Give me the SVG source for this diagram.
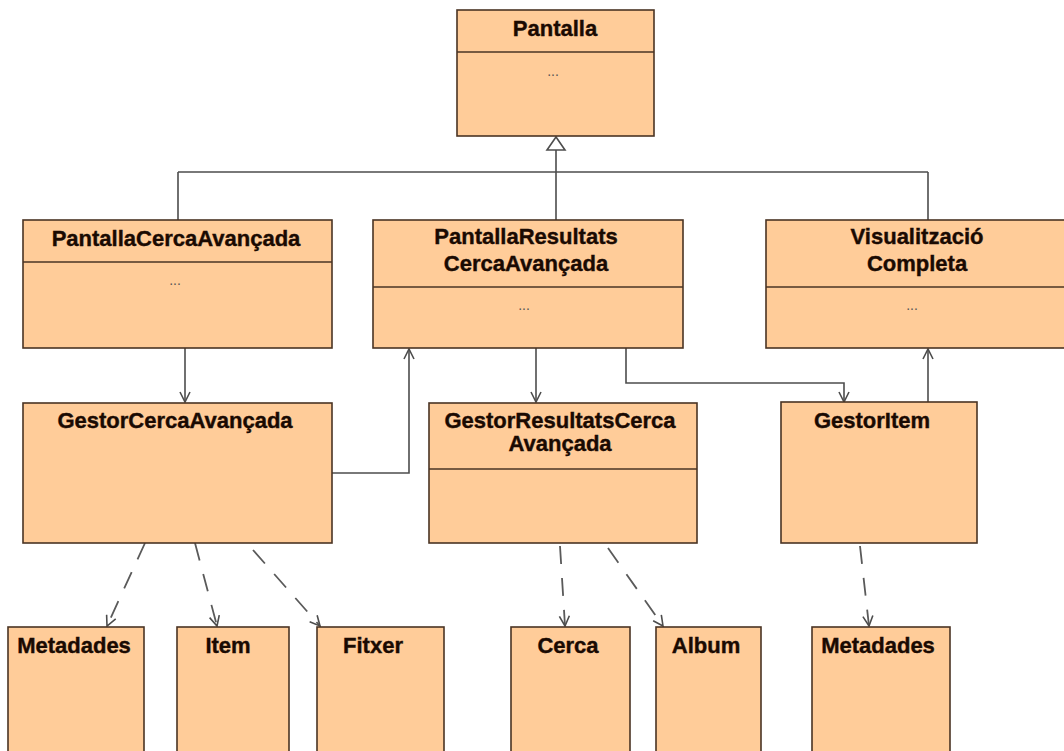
<svg xmlns="http://www.w3.org/2000/svg" width="1064" height="751" viewBox="0 0 1064 751">
<style>
.box{fill:#FFCC99;stroke:#4a3424;stroke-width:1.6}
.div{stroke:#4a3424;stroke-width:1.6}
.t{font-family:"Liberation Sans",Arial,sans-serif;font-weight:bold;font-size:22px;fill:#1a0a02;text-anchor:middle;stroke:#1a0a02;stroke-width:0.4}
.dots{font-family:"Liberation Sans",Arial,sans-serif;font-size:14px;fill:#555;text-anchor:middle}
.c{fill:none;stroke:#4d4d4d;stroke-width:1.6}
.d{fill:none;stroke:#5a5a5a;stroke-width:1.8;stroke-dasharray:18 14}
</style>
<defs>
<marker id="open" viewBox="0 0 12 12" refX="11" refY="6" markerWidth="12" markerHeight="12" markerUnits="userSpaceOnUse" orient="auto">
<path d="M1,1 L11,6 L1,11" fill="none" stroke="#4d4d4d" stroke-width="1.6"/>
</marker>
</defs>
<rect width="1064" height="751" fill="#ffffff"/>
<g id="connectors">
<polygon points="556,137 547,150 565,150" fill="#ffffff" stroke="#4d4d4d" stroke-width="1.6"/>
<path class="c" d="M556,150 V172 M178,172 H928 M178,172 V220 M556,172 V220 M928,172 V220"/>
<path class="c" d="M185,348 V402" marker-end="url(#open)"/>
<path class="c" d="M332,473 H409 V349" marker-end="url(#open)"/>
<path class="c" d="M536,348 V402" marker-end="url(#open)"/>
<path class="c" d="M626,348 V383 H844 V402" marker-end="url(#open)"/>
<path class="c" d="M928,402 V349" marker-end="url(#open)"/>
<path class="d" d="M145,543 L107,626" marker-end="url(#open)"/>
<path class="d" d="M195,543 L217,626" marker-end="url(#open)"/>
<path class="d" d="M253,550 L320,626" marker-end="url(#open)"/>
<path class="d" d="M560,546 L565,626" marker-end="url(#open)"/>
<path class="d" d="M608,548 L663,626" marker-end="url(#open)"/>
<path class="d" d="M860,546 L869,626" marker-end="url(#open)"/>
</g>
<g id="Pantalla">
<rect class="box" x="457" y="10" width="197" height="126"/>
<line class="div" x1="457" y1="52" x2="654" y2="52"/>
<text class="t" x="555" y="36">Pantalla</text>
<text class="dots" x="553" y="76">...</text>
</g>
<g id="PantallaCercaAvancada">
<rect class="box" x="23" y="220" width="309" height="128"/>
<line class="div" x1="23" y1="262" x2="332" y2="262"/>
<text class="t" x="176" y="246">PantallaCercaAvançada</text>
<text class="dots" x="175" y="285">...</text>
</g>
<g id="PantallaResultatsCercaAvancada">
<rect class="box" x="373" y="220" width="310" height="128"/>
<line class="div" x1="373" y1="287" x2="683" y2="287"/>
<text class="t" x="526" y="244">PantallaResultats</text>
<text class="t" x="526" y="271">CercaAvançada</text>
<text class="dots" x="524" y="310">...</text>
</g>
<g id="VisualitzacioCompleta">
<rect class="box" x="766" y="220" width="300" height="128"/>
<line class="div" x1="766" y1="287" x2="1066" y2="287"/>
<text class="t" x="917" y="244">Visualització</text>
<text class="t" x="917" y="271">Completa</text>
<text class="dots" x="912" y="310">...</text>
</g>
<g id="GestorCercaAvancada">
<rect class="box" x="23" y="403" width="309" height="140"/>
<text class="t" x="175" y="428">GestorCercaAvançada</text>
</g>
<g id="GestorResultatsCercaAvancada">
<rect class="box" x="429" y="403" width="268" height="140"/>
<line class="div" x1="429" y1="469" x2="697" y2="469"/>
<text class="t" x="560" y="428">GestorResultatsCerca</text>
<text class="t" x="560" y="451">Avançada</text>
</g>
<g id="GestorItem">
<rect class="box" x="781" y="402" width="196" height="141"/>
<text class="t" x="872" y="428">GestorItem</text>
</g>
<g id="Metadades1">
<rect class="box" x="8" y="627" width="136" height="135"/>
<text class="t" x="74" y="653">Metadades</text>
</g>
<g id="Item">
<rect class="box" x="177" y="627" width="112" height="135"/>
<text class="t" x="228" y="653">Item</text>
</g>
<g id="Fitxer">
<rect class="box" x="317" y="627" width="127" height="135"/>
<text class="t" x="373" y="653">Fitxer</text>
</g>
<g id="Cerca">
<rect class="box" x="511" y="627" width="119" height="135"/>
<text class="t" x="568" y="653">Cerca</text>
</g>
<g id="Album">
<rect class="box" x="656" y="627" width="105" height="135"/>
<text class="t" x="706" y="653">Album</text>
</g>
<g id="Metadades2">
<rect class="box" x="812" y="627" width="138" height="135"/>
<text class="t" x="878" y="653">Metadades</text>
</g>
</svg>
